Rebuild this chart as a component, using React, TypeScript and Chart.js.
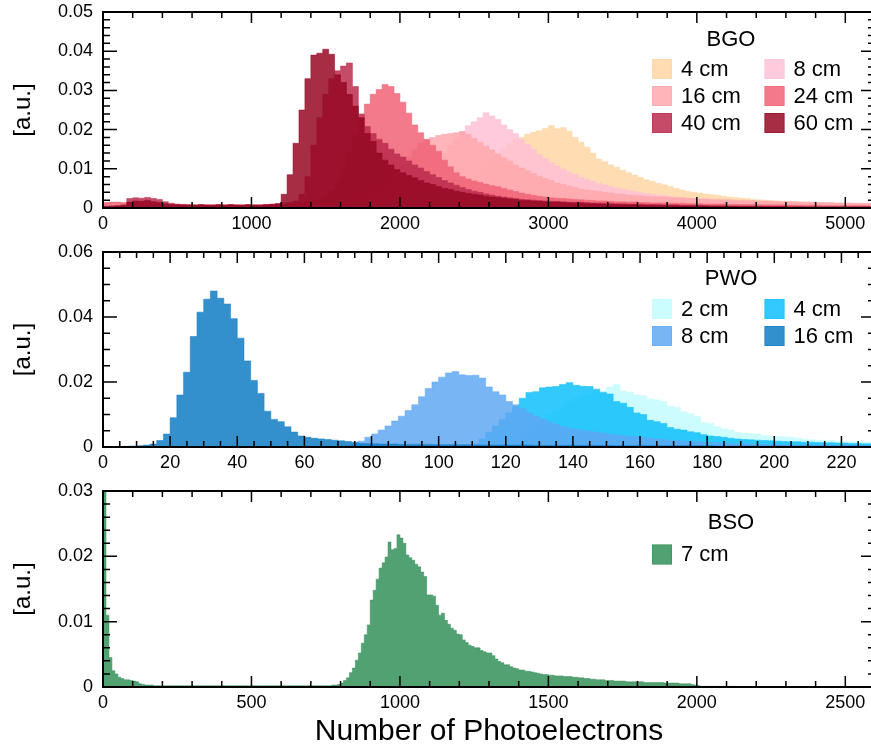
import { useEffect, useRef } from "react";
import { Chart, registerables } from "chart.js";

Chart.register(...registerables);

const FONT = '"Liberation Sans", Arial, Helvetica, sans-serif';
const UNIT = 1e-4; // bin contents are listed in units of 1e-4 [a.u.]
const FILL_ALPHA = 0.85;

// ---------------- BGO: 40-photoelectron bins, 0 .. 5200 ----------------
const BGO_BIN = 40;
const BGO_LABELS = ["4 cm", "8 cm", "16 cm", "24 cm", "40 cm", "60 cm"];
const bgo4cm = [
  3, 3, 3, 3, 2, 2, 2, 2, 2, 2,
  2, 2, 2, 2, 2, 2, 2, 2, 2, 2,
  2, 2, 2, 2, 2, 2, 2, 2, 2, 2,
  2, 2, 2, 2, 3, 3, 3, 3, 3, 4,
  4, 4, 5, 5, 6, 6, 7, 8, 9, 10,
  11, 13, 15, 18, 21, 25, 30, 36, 43, 52,
  62, 72, 84, 97, 110, 125, 140, 152, 165, 175,
  180, 188, 193, 197, 203, 210, 202, 205, 196, 180,
  168, 155, 140, 125, 118, 110, 104, 96, 90, 84,
  78, 72, 68, 63, 59, 55, 50, 46, 42, 40,
  38, 36, 34, 32, 30, 28, 27, 25, 24, 22,
  21, 20, 19, 18, 17, 16, 16, 15, 15, 14,
  13, 13, 12, 12, 12, 11, 11, 10, 10, 10,
];
const bgo8cm = [
  4, 4, 4, 4, 3, 3, 3, 3, 3, 3,
  3, 3, 3, 2, 2, 2, 2, 2, 2, 2,
  2, 2, 2, 2, 2, 2, 2, 3, 3, 3,
  3, 3, 3, 4, 4, 4, 5, 5, 5, 6,
  6, 7, 8, 9, 10, 12, 14, 16, 19, 23,
  28, 35, 45, 58, 75, 95, 118, 140, 160, 180,
  195, 210, 220, 230, 243, 235, 226, 212, 200, 190,
  175, 162, 150, 136, 126, 116, 107, 99, 92, 85,
  78, 73, 68, 63, 59, 55, 51, 48, 45, 42,
  39, 37, 35, 33, 31, 29, 28, 26, 25, 24,
  23, 22, 21, 20, 19, 18, 18, 17, 16, 16,
  15, 15, 14, 14, 13, 13, 13, 12, 12, 12,
  11, 11, 11, 11, 10, 10, 10, 10, 10, 9,
];
const bgo16cm = [
  6, 6, 6, 5, 5, 5, 4, 4, 4, 4,
  4, 4, 4, 3, 3, 3, 3, 3, 3, 3,
  3, 3, 3, 3, 3, 3, 3, 3, 4, 4,
  4, 4, 5, 5, 6, 6, 7, 8, 9, 10,
  12, 15, 18, 22, 28, 35, 45, 58, 72, 90,
  110, 130, 150, 165, 175, 180, 185, 188, 190, 192,
  195, 188, 178, 168, 158, 148, 138, 128, 120, 110,
  102, 95, 88, 81, 75, 70, 64, 60, 56, 52,
  48, 46, 44, 42, 40, 38, 36, 35, 33, 32,
  31, 30, 29, 28, 28, 27, 26, 26, 25, 24,
  23, 23, 22, 22, 21, 21, 20, 20, 19, 19,
  18, 18, 17, 17, 16, 16, 16, 15, 15, 15,
  14, 14, 14, 13, 13, 13, 12, 12, 12, 12,
];
const bgo24cm = [
  14, 15, 15, 14, 12, 10, 9, 9, 8, 8,
  7, 7, 7, 6, 7, 6, 6, 7, 6, 6,
  6, 6, 7, 6, 6, 7, 7, 8, 8, 9,
  10, 11, 12, 14, 16, 19, 24, 32, 45, 65,
  100, 145, 190, 232, 265, 290, 302, 315, 310, 292,
  270, 242, 212, 192, 175, 160, 145, 122, 105, 90,
  80, 74, 69, 65, 61, 57, 54, 50, 46, 42,
  38, 35, 32, 30, 28, 26, 25, 24, 23, 22,
  21, 20, 19, 18, 18, 17, 16, 16, 15, 15,
  14, 14, 13, 13, 13, 12, 12, 12, 11, 11,
  11, 10, 10, 10, 10, 9, 9, 9, 9, 9,
  8, 8, 8, 8, 8, 7, 7, 7, 7, 7,
  7, 6, 6, 6, 6, 6, 6, 6, 6, 5,
];
const bgo40cm = [
  4, 5, 6, 8, 24, 26, 25, 27, 24, 22,
  16, 12, 10, 9, 9, 8, 9, 8, 8, 9,
  8, 9, 8, 8, 9, 8, 8, 9, 10, 11,
  12, 14, 18, 35, 80, 160, 230, 290, 330, 350,
  362, 370, 310, 240, 208, 190, 175, 165, 150, 138,
  130, 120, 110, 102, 93, 85, 78, 70, 64, 58,
  52, 47, 43, 40, 36, 33, 30, 28, 26, 24,
  22, 21, 20, 19, 18, 17, 17, 16, 15, 15,
  15, 14, 13, 13, 12, 12, 11, 11, 10, 10,
  10, 9, 9, 9, 8, 8, 8, 7, 7, 7,
  7, 6, 6, 6, 6, 5, 5, 5, 5, 5,
  5, 4, 4, 4, 4, 4, 4, 4, 3, 3,
  3, 3, 3, 3, 3, 3, 3, 3, 3, 3,
];
const bgo60cm = [
  4, 4, 5, 6, 15, 18, 17, 19, 16, 14,
  11, 9, 8, 8, 7, 7, 8, 7, 7, 8,
  7, 8, 7, 7, 8, 7, 7, 8, 9, 11,
  35, 85, 165, 250, 330, 390, 395, 405, 392, 340,
  320, 290, 260, 230, 190, 170, 140, 122, 110, 98,
  90, 83, 77, 70, 64, 60, 55, 50, 47, 43,
  40, 37, 35, 33, 30, 28, 27, 25, 23, 22,
  20, 19, 18, 17, 16, 15, 15, 14, 13, 12,
  12, 11, 11, 10, 10, 9, 9, 8, 8, 8,
  7, 7, 7, 6, 6, 6, 6, 5, 5, 5,
  5, 5, 4, 4, 4, 4, 4, 3, 3, 3,
  3, 3, 3, 3, 3, 2, 2, 2, 2, 2,
  2, 2, 2, 2, 2, 2, 2, 2, 2, 2,
];
const BGO_COLORS = [
  [255, 214, 164],
  [255, 193, 213],
  [255, 168, 173],
  [240, 99, 117],
  [187, 43, 77],
  [149, 8, 35],
];
const BGO_X_TICKS = [0, 1000, 2000, 3000, 4000, 5000];
const BGO_Y_TICKS = [0, 0.01, 0.02, 0.03, 0.04, 0.05];

// ---------------- PWO: 2-photoelectron bins, 0 .. 230 ----------------
const PWO_BIN = 2;
const PWO_LABELS = ["2 cm", "4 cm", "8 cm", "16 cm"];
const pwo2cm = [
  0, 0, 0, 0, 0, 0, 0, 0, 0, 0,
  0, 0, 0, 0, 0, 0, 0, 0, 0, 0,
  0, 0, 0, 0, 0, 0, 0, 0, 0, 0,
  0, 0, 0, 0, 0, 0, 0, 0, 0, 0,
  0, 0, 0, 0, 0, 0, 0, 0, 0, 0,
  0, 0, 0, 0, 0, 0, 0, 1, 3, 8,
  15, 25, 38, 52, 68, 85, 100, 115, 128, 140,
  150, 158, 164, 170, 172, 185, 192, 172, 168, 160,
  158, 148, 145, 140, 125, 122, 108, 102, 95, 75,
  72, 62, 56, 52, 45, 43, 41, 40, 35, 33,
  32, 31, 30, 27, 24, 22, 21, 20, 20, 18,
  17, 16, 16, 15, 15,
];
const pwo4cm = [
  0, 0, 0, 0, 0, 0, 0, 0, 0, 0,
  0, 0, 0, 0, 0, 0, 0, 0, 0, 0,
  0, 0, 0, 0, 0, 0, 0, 0, 0, 0,
  0, 0, 0, 0, 0, 0, 0, 0, 0, 0,
  0, 0, 0, 0, 0, 0, 0, 0, 0, 0,
  0, 0, 0, 0, 3, 10, 25, 45, 65, 85,
  105, 125, 150, 168, 170, 182, 185, 186, 192, 198,
  190, 187, 186, 178, 168, 163, 140, 135, 122, 105,
  100, 82, 78, 72, 60, 55, 52, 47, 44, 38,
  34, 32, 30, 27, 25, 23, 22, 21, 20, 19,
  18, 17, 16, 16, 15, 15, 14, 13, 13, 12,
  12, 11, 11, 10, 10,
];
const pwo8cm = [
  0, 0, 0, 0, 0, 0, 0, 0, 0, 0,
  0, 0, 0, 0, 0, 0, 0, 0, 0, 0,
  0, 0, 0, 0, 0, 0, 0, 0, 0, 0,
  1, 1, 1, 2, 2, 3, 4, 8, 18, 30,
  40, 52, 65, 80, 95, 112, 130, 155, 180, 200,
  215, 228, 232, 222, 220, 221, 212, 185, 170, 160,
  140, 130, 118, 105, 95, 86, 78, 70, 63, 58,
  54, 51, 48, 46, 43, 40, 37, 35, 33, 31,
  29, 27, 25, 23, 21, 20, 18, 17, 16, 15,
  14, 13, 12, 11, 10, 10, 9, 9, 8, 8,
  7, 7, 7, 6, 6, 6, 6, 5, 5, 5,
  5, 5, 4, 4, 4,
];
const pwo16cm = [
  0, 0, 1, 2, 3, 4, 6, 9, 20, 40,
  90, 160, 230, 340, 415, 455, 480, 458, 440, 395,
  335, 265, 205, 165, 110, 85, 78, 62, 46, 34,
  30, 27, 25, 23, 21, 19, 17, 15, 11, 10,
  10, 9, 9, 9, 8, 8, 8, 8, 8, 7,
  7, 7, 7, 7, 7, 6, 6, 6, 6, 6,
  6, 6, 6, 6, 5, 5, 5, 5, 5, 5,
  5, 5, 5, 5, 5, 5, 4, 4, 4, 4,
  4, 4, 4, 4, 4, 4, 4, 4, 4, 4,
  4, 3, 3, 3, 3, 3, 3, 3, 3, 3,
  3, 3, 3, 3, 3, 3, 3, 3, 3, 3,
  3, 3, 3, 3, 3,
];
const PWO_COLORS = [
  [195, 252, 254],
  [15, 192, 253],
  [95, 168, 243],
  [17, 124, 196],
];
const PWO_X_TICKS = [0, 20, 40, 60, 80, 100, 120, 140, 160, 180, 200, 220];
const PWO_Y_TICKS = [0, 0.02, 0.04, 0.06];

// ---------------- BSO: 10-photoelectron bins, 0 .. 2600 ----------------
const BSO_BIN = 10;
const BSO_LABELS = ["7 cm"];
const bso7cm = [
  400, 110, 45, 25, 20, 15, 13, 11, 11, 10,
  9, 8, 5, 4, 3, 3, 3, 2, 2, 2,
  2, 2, 2, 2, 2, 2, 2, 2, 2, 2,
  2, 2, 2, 2, 2, 2, 2, 2, 2, 2,
  2, 2, 2, 2, 2, 2, 2, 2, 2, 2,
  2, 2, 2, 2, 2, 2, 2, 2, 2, 2,
  2, 2, 2, 2, 2, 2, 2, 2, 2, 2,
  2, 2, 2, 2, 2, 2, 2, 3, 3, 4,
  6, 10, 14, 22, 29, 41, 52, 67, 80, 95,
  133, 148, 165, 182, 190, 199, 222, 210, 212, 233,
  228, 220, 202, 198, 194, 188, 184, 176, 169, 141,
  141, 139, 125, 110, 113, 102, 96, 90, 87, 81,
  80, 72, 68, 64, 62, 60, 60, 56, 54, 52,
  52, 48, 43, 39, 37, 34, 34, 31, 29, 28,
  26, 26, 24, 24, 23, 22, 21, 20, 19, 19,
  18, 18, 17, 17, 17, 16, 16, 16, 15, 15,
  14, 14, 13, 13, 12, 12, 11, 11, 11, 10,
  10, 10, 9, 9, 9, 9, 8, 8, 8, 8,
  8, 8, 7, 7, 7, 7, 7, 7, 7, 6,
  6, 6, 6, 6, 5, 5, 5, 5, 4, 3,
  2, 1, 1, 1, 1, 1, 1, 1, 1, 1,
  1, 1, 1, 0, 0, 0, 0, 0, 0, 0,
  0, 0, 0, 0, 0, 0, 0, 0, 0, 0,
  0, 0, 0, 0, 0, 0, 0, 0, 0, 0,
  0, 0, 0, 0, 0, 0, 0, 0, 0, 0,
  0, 0, 0, 0, 0, 0, 0, 0, 0, 0,
];
const BSO_COLORS = [[52, 144, 89]];
const BSO_X_TICKS = [0, 500, 1000, 1500, 2000, 2500];
const BSO_Y_TICKS = [0, 0.01, 0.02, 0.03];

const X_TITLE = "Number of Photoelectrons";
const Y_TITLE = "[a.u.]";

// ---------------- layout of the three stacked panels ----------------
const CANVAS_WIDTH = 890;
const AXIS_WIDTH = 103;
const RIGHT_PAD = 15;

type Panel = {
  name: string;
  labels: string[];
  series: number[][];
  colors: number[][];
  bin: number;
  xMax: number;
  yMax: number;
  xTicks: number[];
  yTicks: number[];
  xMinor: number;
  yMinor: number;
  top: number;
  height: number;
  padTop: number;
  xAxisHeight: number;
  legendTitleDy: number;
  legendRowDy: number;
  xTitle?: string;
};

const PANELS: Panel[] = [
  {
    name: "BGO",
    labels: BGO_LABELS,
    series: [bgo4cm, bgo8cm, bgo16cm, bgo24cm, bgo40cm, bgo60cm],
    colors: BGO_COLORS,
    bin: BGO_BIN,
    xMax: 5200,
    yMax: 0.05,
    xTicks: BGO_X_TICKS,
    yTicks: BGO_Y_TICKS,
    xMinor: 200,
    yMinor: 0.002,
    top: 0,
    height: 240,
    padTop: 12,
    xAxisHeight: 32,
    legendTitleDy: 28,
    legendRowDy: 57,
  },
  {
    name: "PWO",
    labels: PWO_LABELS,
    series: [pwo2cm, pwo4cm, pwo8cm, pwo16cm],
    colors: PWO_COLORS,
    bin: PWO_BIN,
    xMax: 230,
    yMax: 0.06,
    xTicks: PWO_X_TICKS,
    yTicks: PWO_Y_TICKS,
    xMinor: 5,
    yMinor: 0.005,
    top: 240,
    height: 240,
    padTop: 12,
    xAxisHeight: 33,
    legendTitleDy: 26.5,
    legendRowDy: 57,
  },
  {
    name: "BSO",
    labels: BSO_LABELS,
    series: [bso7cm],
    colors: BSO_COLORS,
    bin: BSO_BIN,
    xMax: 2600,
    yMax: 0.03,
    xTicks: BSO_X_TICKS,
    yTicks: BSO_Y_TICKS,
    xMinor: 100,
    yMinor: 0.002,
    top: 480,
    height: 270,
    padTop: 11,
    xAxisHeight: 63,
    legendTitleDy: 31.5,
    legendRowDy: 63.5,
    xTitle: X_TITLE,
  },
];

const rgba = (c: number[], a: number) => `rgba(${c[0]},${c[1]},${c[2]},${a})`;

// Step-histogram points: one point on each left bin edge, plus the closing right edge.
function histPoints(counts: number[], binWidth: number) {
  const pts = counts.map((c, i) => ({ x: i * binWidth, y: c * UNIT }));
  pts.push({ x: counts.length * binWidth, y: counts[counts.length - 1] * UNIT });
  return pts;
}

// Inward-pointing major/minor ticks on all four sides plus the box frame.
const framePlugin = {
  id: "frame",
  afterDatasetsDraw(chart: any, _args: any, opts: any) {
    const { ctx, chartArea } = chart;
    const { left, right, top, bottom } = chartArea;
    const xs = chart.scales.x;
    const ys = chart.scales.y;
    ctx.save();
    ctx.strokeStyle = "#000";
    ctx.lineWidth = 1.5;
    ctx.beginPath();
    const xTick = (v: number, len: number) => {
      const px = xs.getPixelForValue(v);
      ctx.moveTo(px, bottom);
      ctx.lineTo(px, bottom - len);
      ctx.moveTo(px, top);
      ctx.lineTo(px, top + len);
    };
    const yTick = (v: number, len: number) => {
      const py = ys.getPixelForValue(v);
      ctx.moveTo(left, py);
      ctx.lineTo(left + len, py);
      ctx.moveTo(right, py);
      ctx.lineTo(right - len, py);
    };
    const nx = Math.round(opts.xMax / opts.xMinor);
    for (let k = 0; k <= nx; k++) {
      const v = k * opts.xMinor;
      const major = opts.xTicks.some((t: number) => Math.abs(t - v) < 1e-9);
      xTick(v, major ? 11 : 6);
    }
    const ny = Math.round(opts.yMax / opts.yMinor);
    for (let k = 0; k <= ny; k++) {
      const v = k * opts.yMinor;
      const major = opts.yTicks.some((t: number) => Math.abs(t - v) < 1e-9);
      yTick(v, major ? 14 : 7);
    }
    ctx.stroke();
    ctx.lineWidth = 2;
    ctx.strokeRect(left, top, right - left, bottom - top);
    ctx.restore();
  },
};

// Boxed-in legend: material name above a two-column grid of swatches.
const legendPlugin = {
  id: "panelLegend",
  afterDraw(chart: any, _args: any, opts: any) {
    const { ctx, chartArea } = chart;
    ctx.save();
    ctx.font = `22px ${FONT}`;
    ctx.fillStyle = "#000";
    ctx.textAlign = "center";
    ctx.textBaseline = "middle";
    ctx.fillText(opts.title, 731, chartArea.top + opts.titleDy);
    chart.data.datasets.forEach((ds: any, i: number) => {
      const col = i % 2;
      const row = Math.floor(i / 2);
      const x = 652 + col * 112.5;
      const y = chartArea.top + opts.rowDy + row * 27;
      ctx.fillStyle = ds.backgroundColor;
      ctx.fillRect(x, y - 10, 20, 20);
      ctx.strokeStyle = ds.borderColor;
      ctx.lineWidth = 1;
      ctx.strokeRect(x + 0.5, y - 9.5, 19, 19);
      ctx.fillStyle = "#000";
      ctx.textAlign = "left";
      ctx.fillText(ds.label, x + 29, y + 0.5);
    });
    ctx.restore();
  },
};

function buildConfig(p: Panel): any {
  const n = p.series.length;
  const tickFont = { family: FONT, size: 18 };
  return {
    type: "line",
    data: {
      datasets: p.series.map((s, i) => ({
        label: p.labels[i],
        data: histPoints(s, p.bin),
        stepped: true,
        fill: "origin",
        backgroundColor: rgba(p.colors[i], FILL_ALPHA),
        borderColor: rgba(p.colors[i], 0.5),
        borderWidth: 1,
        pointRadius: 0,
        pointHoverRadius: 0,
        order: n - i,
      })),
    },
    options: {
      animation: false,
      responsive: false,
      maintainAspectRatio: false,
      events: [],
      layout: { padding: { top: p.padTop, right: RIGHT_PAD, left: 0, bottom: 0 } },
      plugins: {
        legend: { display: false },
        tooltip: { enabled: false },
        frame: {
          xMax: p.xMax,
          yMax: p.yMax,
          xTicks: p.xTicks,
          yTicks: p.yTicks,
          xMinor: p.xMinor,
          yMinor: p.yMinor,
        },
        panelLegend: { title: p.name, titleDy: p.legendTitleDy, rowDy: p.legendRowDy },
      },
      scales: {
        x: {
          type: "linear",
          min: 0,
          max: p.xMax,
          grid: { display: false, drawTicks: true, tickLength: 5.5 },
          border: { display: false },
          ticks: {
            font: tickFont,
            color: "#000",
            padding: 0,
            maxRotation: 0,
            minRotation: 0,
            autoSkip: false,
            callback: (v: number) => String(v),
          },
          afterBuildTicks: (s: any) => {
            s.ticks = p.xTicks.map((v) => ({ value: v }));
          },
          afterFit: (s: any) => {
            s.height = p.xAxisHeight;
          },
          title: p.xTitle
            ? {
                display: true,
                text: p.xTitle,
                color: "#000",
                font: { family: FONT, size: 30 },
                padding: { top: 0, bottom: 0 },
              }
            : { display: false },
        },
        y: {
          type: "linear",
          min: 0,
          max: p.yMax,
          grid: { display: false, drawTicks: true, tickLength: 10 },
          border: { display: false },
          ticks: {
            font: tickFont,
            color: "#000",
            padding: 0,
            autoSkip: false,
            callback: (v: number) => String(v),
          },
          afterBuildTicks: (s: any) => {
            s.ticks = p.yTicks.map((v) => ({ value: v }));
          },
          afterFit: (s: any) => {
            s.width = AXIS_WIDTH;
          },
          title: {
            display: true,
            text: Y_TITLE,
            color: "#000",
            font: { family: FONT, size: 24 },
            padding: { top: 9, bottom: 0 },
          },
        },
      },
    },
    plugins: [framePlugin, legendPlugin],
  };
}

function PanelChart({ panel }: { panel: Panel }) {
  const ref = useRef<HTMLCanvasElement | null>(null);
  useEffect(() => {
    if (!ref.current) return;
    const chart = new Chart(ref.current, buildConfig(panel));
    return () => chart.destroy();
  }, [panel]);
  return (
    <canvas
      ref={ref}
      width={CANVAS_WIDTH}
      height={panel.height}
      style={{
        position: "absolute",
        left: 0,
        top: panel.top,
        width: CANVAS_WIDTH,
        height: panel.height,
      }}
    />
  );
}

export default function App() {
  return (
    <div
      style={{
        position: "fixed",
        left: 0,
        top: 0,
        width: 871,
        height: 750,
        overflow: "hidden",
        background: "#fff",
      }}
    >
      {PANELS.map((p) => (
        <PanelChart key={p.name} panel={p} />
      ))}
    </div>
  );
}
